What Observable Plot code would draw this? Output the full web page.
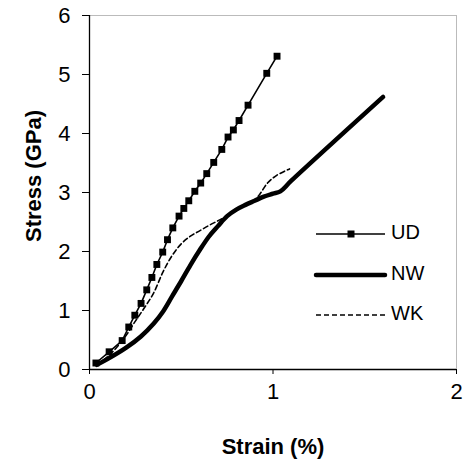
<!DOCTYPE html>
<html><head><meta charset="utf-8">
<script src="https://cdn.jsdelivr.net/npm/d3@7"></script>
<script src="https://cdn.jsdelivr.net/npm/@observablehq/plot@0.6"></script>
<style>
body{margin:0;background:#fff}
svg{font-family:Arial,"Liberation Sans",sans-serif}
</style>
</head><body><div id="chart"></div>
<script>
const xTicks = [0, 1, 2];
const yTicks = [0, 1, 2, 3, 4, 5, 6];
const seriesNames = ["UD", "NW", "WK"];

const udStrain = [0.035, 0.107, 0.178, 0.214, 0.247, 0.281, 0.312, 0.340, 0.367, 0.399, 0.425, 0.454, 0.488, 0.514, 0.541, 0.574, 0.606, 0.639, 0.677, 0.721, 0.755, 0.784, 0.815, 0.864, 0.966, 1.022];
const udStress = [0.11, 0.30, 0.49, 0.72, 0.92, 1.12, 1.35, 1.56, 1.78, 1.99, 2.20, 2.40, 2.60, 2.73, 2.86, 3.02, 3.16, 3.32, 3.51, 3.73, 3.94, 4.06, 4.22, 4.48, 5.02, 5.31];

const nwStrain = [0.04, 0.10, 0.20, 0.28, 0.35, 0.40, 0.45, 0.50, 0.55, 0.60, 0.65, 0.70, 0.75, 0.80, 0.85, 0.90, 0.95, 1.00, 1.04, 1.10, 1.60];
const nwStress = [0.08, 0.18, 0.37, 0.56, 0.78, 0.98, 1.24, 1.50, 1.77, 2.02, 2.25, 2.43, 2.60, 2.71, 2.79, 2.86, 2.93, 2.98, 3.02, 3.20, 4.62];

const wkStrain = [0.04, 0.10, 0.15, 0.20, 0.25, 0.30, 0.35, 0.40, 0.45, 0.50, 0.55, 0.60, 0.65, 0.70, 0.75, 0.80, 0.85, 0.90, 0.93, 0.97, 1.02, 1.09];
const wkStress = [0.08, 0.22, 0.38, 0.58, 0.82, 1.05, 1.30, 1.65, 1.93, 2.13, 2.26, 2.35, 2.44, 2.52, 2.60, 2.71, 2.79, 2.87, 2.98, 3.16, 3.29, 3.40];

const ud = udStrain.map((x, i) => ({x, y: udStress[i]}));
const nw = nwStrain.map((x, i) => ({x, y: nwStress[i]}));
const wk = wkStrain.map((x, i) => ({x, y: wkStress[i]}));

const plot = Plot.plot({
  width: 464, height: 463,
  marginLeft: 89, marginTop: 15, marginRight: 8, marginBottom: 94,
  style: {fontFamily: "Arial, 'Liberation Sans', sans-serif", fontSize: "22px", color: "#000", background: "#fff"},
  x: {domain: [0, 2]},
  y: {domain: [0, 6]},
  marks: [
    Plot.frame({stroke: "#bbbbbb", strokeWidth: 1}),
    Plot.line(nw, {x: "x", y: "y", stroke: "#000", strokeWidth: 4.5, curve: "catmull-rom"}),
    Plot.line(wk, {x: "x", y: "y", stroke: "#000", strokeWidth: 1.6, strokeDasharray: "5,3", curve: "catmull-rom"}),
    Plot.line(ud, {x: "x", y: "y", stroke: "#000", strokeWidth: 1.6}),
    Plot.dot(ud, {x: "x", y: "y", symbol: "square", r: 3.9, fill: "#000", stroke: "none"}),
    Plot.axisX({ticks: xTicks, tickFormat: d3.format("d"), tickSize: 5, tickPadding: 9, fontSize: 22, label: null}),
    Plot.axisY({ticks: yTicks, tickFormat: d3.format("d"), tickSize: 7, tickPadding: 12, fontSize: 22, label: null}),
    Plot.ruleX([0], {stroke: "#000", strokeWidth: 1.3}),
    Plot.ruleY([0], {stroke: "#000", strokeWidth: 1.3})
  ]
});
document.getElementById("chart").appendChild(plot);

const svg = d3.select(plot);
svg.append("text").attr("x", 273).attr("y", 448).attr("text-anchor", "middle")
  .attr("dominant-baseline", "middle").attr("font-weight", "bold").attr("font-size", 22).text("Strain (%)");
svg.append("text").attr("transform", "translate(35,176) rotate(-90)").attr("text-anchor", "middle")
  .attr("dominant-baseline", "middle").attr("font-weight", "bold").attr("font-size", 22).text("Stress (GPa)");

const leg = svg.append("g");
const legY = [234, 275, 315];
const styles = [
  {w: 1.6, dash: null, marker: true},
  {w: 4.5, dash: null, marker: false},
  {w: 1.6, dash: "5,3", marker: false}
];
seriesNames.forEach((name, i) => {
  const s = styles[i];
  const line = leg.append("line").attr("x1", 316).attr("x2", 385).attr("y1", legY[i]).attr("y2", legY[i])
    .attr("stroke", "#000").attr("stroke-width", s.w);
  if (s.dash) line.attr("stroke-dasharray", s.dash);
  if (s.w > 3) line.attr("stroke-linecap", "round");
  if (s.marker) leg.append("rect").attr("x", 347.5).attr("y", legY[i] - 3.5).attr("width", 7).attr("height", 7).attr("fill", "#000");
  leg.append("text").attr("x", 391).attr("y", legY[i]).attr("text-anchor", "start").attr("dominant-baseline", "middle")
    .attr("font-size", 20).text(name);
});
</script>
</body></html>
